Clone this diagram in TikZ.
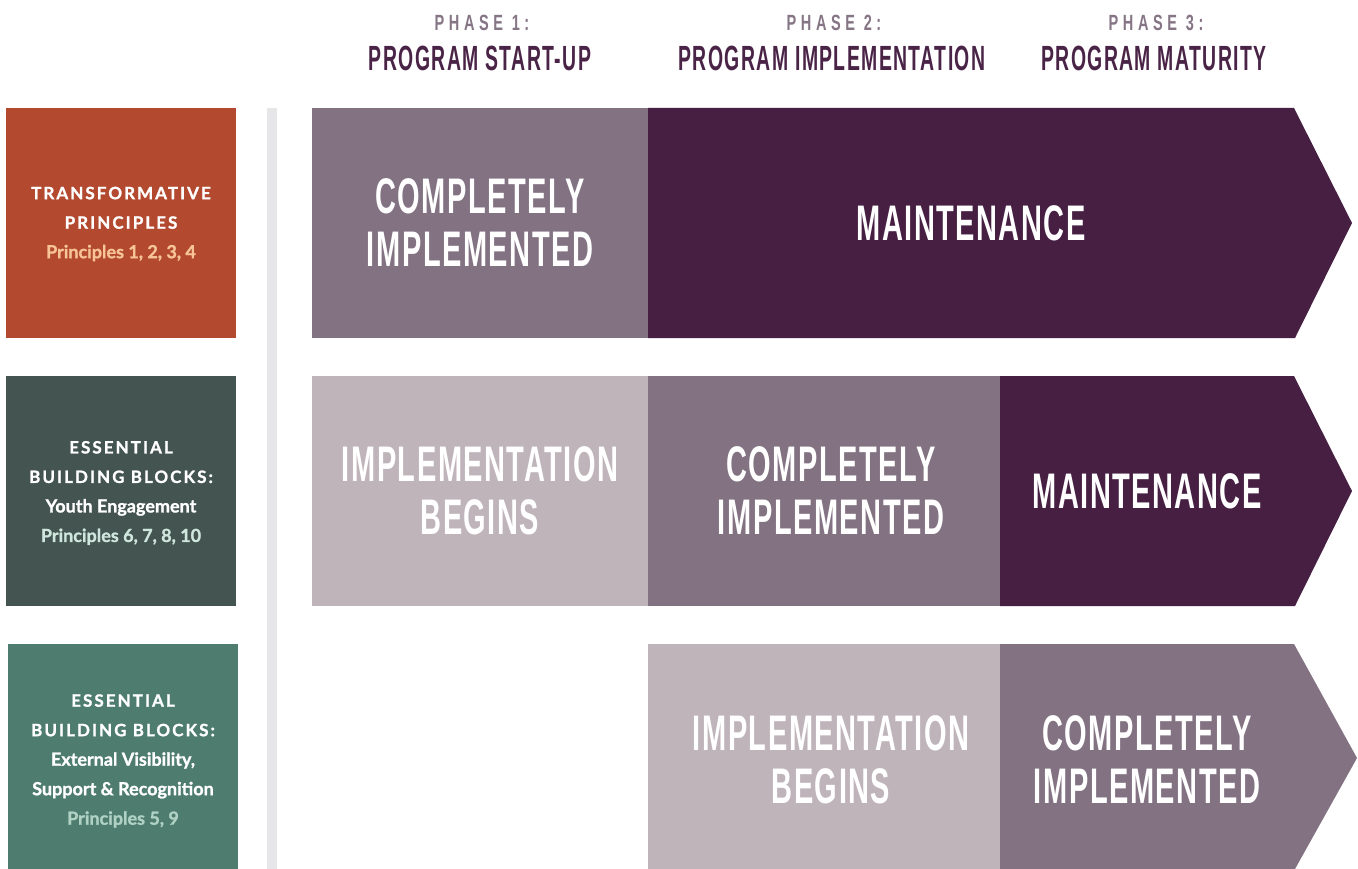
\documentclass[tikz,border=0pt]{standalone}
\usepackage{fontspec}
\newfontfamily\din{Liberation Sans}[FakeStretch=0.58,LetterSpace=3]
\newfontfamily\dinh{Liberation Sans}[FakeStretch=0.555,LetterSpace=4]
\newfontfamily\dinsp{Liberation Sans}[FakeStretch=0.66,LetterSpace=21]
\newfontfamily\lato{Lato}[FakeBold=1.2]
\newfontfamily\latosp{Lato}[LetterSpace=12,FakeBold=1.2]
\definecolor{cOrange}{HTML}{B34A2F}
\definecolor{cSlate}{HTML}{435451}
\definecolor{cTeal}{HTML}{4E7C6F}
\definecolor{cMid}{HTML}{827282}
\definecolor{cDark}{HTML}{461F43}
\definecolor{cLight}{HTML}{BFB4BA}
\definecolor{cBar}{HTML}{E6E6E8}
\definecolor{cPhase}{HTML}{857585}
\definecolor{cHead}{HTML}{4A2447}
\definecolor{cPeach}{HTML}{F6C497}
\definecolor{cMint}{HTML}{CFE6DD}
\definecolor{cSage}{HTML}{B0D2C4}
\begin{document}
\begin{tikzpicture}[x=1pt,y=-1pt,
  big/.style={text=white,align=center,font=\din\bfseries\fontsize{50}{53}\selectfont},
  phase/.style={text=cPhase,font=\dinsp\bfseries\fontsize{22}{24}\selectfont},
  head/.style={text=cHead,font=\dinh\bfseries\fontsize{35}{40}\selectfont},
  side/.style={text=white,align=center,font=\lato\bfseries\fontsize{18}{29.5}\selectfont},
  caps/.style={}]
\useasboundingbox (0,0) rectangle (1358,869);
\fill[white] (0,0) rectangle (1358,869);
% headers
\node[phase] (p1) at (482,23) {PHASE 1:};
\node[head] (h1) at (480,58) {PROGRAM START-UP};
\node[phase] (p2) at (834,23) {PHASE 2:};
\node[head] (h2) at (832,58) {PROGRAM IMPLEMENTATION};
\node[phase] (p3) at (1156,23) {PHASE 3:};
\node[head] (h3) at (1154,58) {PROGRAM MATURITY};
% left boxes
\fill[cOrange] (6,108) rectangle (236,338);
\fill[cSlate] (6,376) rectangle (236,606);
\fill[cTeal] (8,644) rectangle (238,869);
\fill[cBar] (267,108) rectangle (277,869);
\node[side] (s1) at (121,224) {{\latosp\fontsize{17}{29.5}\selectfont TRANSFORMATIVE}\\{\latosp\fontsize{17}{29.5}\selectfont PRINCIPLES}\\\textcolor{cPeach}{Principles 1, 2, 3, 4}};
\node[side] (s2) at (121,493) {{\latosp\fontsize{17}{29.5}\selectfont ESSENTIAL}\\{\latosp\fontsize{17}{29.5}\selectfont BUILDING BLOCKS:}\\Youth Engagement\\\textcolor{cMint}{Principles 6, 7, 8, 10}};
\node[side] (s3) at (123,761) {{\latosp\fontsize{17}{29.5}\selectfont ESSENTIAL}\\{\latosp\fontsize{17}{29.5}\selectfont BUILDING BLOCKS:}\\External Visibility,\\Support \& Recognition\\\textcolor{cSage}{Principles 5, 9}};
% row 1
\fill[cMid] (312,108) rectangle (648,338);
\fill[cDark] (648,108) -- (1294,108) -- (1352,223) -- (1295,338) -- (648,338) -- cycle;
\node[big] (r1a) at (480,223) {COMPLETELY\\IMPLEMENTED};
\node[big] (r1b) at (971,223) {MAINTENANCE};
% row 2
\fill[cLight] (312,376) rectangle (648,606);
\fill[cMid] (648,376) rectangle (1000,606);
\fill[cDark] (1000,376) -- (1294,376) -- (1352,491) -- (1295,606) -- (1000,606) -- cycle;
\node[big] (r2a) at (480,491) {IMPLEMENTATION\\BEGINS};
\node[big] (r2b) at (831,491) {COMPLETELY\\IMPLEMENTED};
\node[big] (r2c) at (1147,491) {MAINTENANCE};
% row 3
\fill[cLight] (648,644) rectangle (1000,869);
\fill[cMid] (1000,644) -- (1294,644) -- (1357,758) -- (1295,869) -- (1000,869) -- cycle;
\node[big] (r3a) at (831,760) {IMPLEMENTATION\\BEGINS};
\node[big] (r3b) at (1147,760) {COMPLETELY\\IMPLEMENTED};
\end{tikzpicture}
\end{document}
